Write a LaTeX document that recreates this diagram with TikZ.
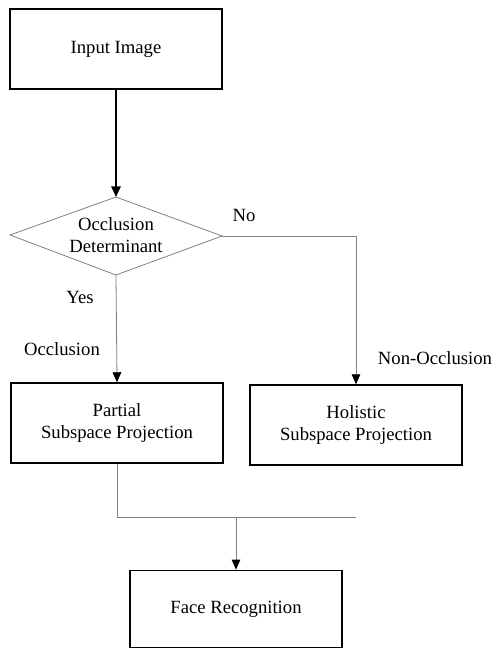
\documentclass[tikz,border=0pt]{standalone}
\usepackage{fontspec}
\setmainfont{Liberation Serif}
\usetikzlibrary{calc}
\usetikzlibrary{arrows.meta}

\begin{document}
\begin{tikzpicture}[x=0.75pt,y=-0.75pt,
    font=\fontsize{14}{17}\selectfont,
    box/.style={draw,line width=1.1pt,minimum width=159pt,minimum height=60pt,align=center,inner sep=0pt},
    flow/.style={draw=black!50,line width=0.6pt,-{Triangle[black,length=7.5pt,width=6.5pt]}},
    mainflow/.style={draw=black,line width=1.6pt,-{Triangle[black,length=8pt,width=7pt]}}]
\useasboundingbox (0,0) rectangle (493,650);
\coordinate (dtop) at (116,197);
\coordinate (dleft) at (10,235);
\coordinate (dright) at (222,236);
\coordinate (dbot) at (116,275);
\coordinate (pjoin) at (117,517);
\coordinate (hend) at (356,517);
\coordinate (fjoin) at (236,517);

\node[box] (in) at (116,49) {Input Image};
\node[box] (part) at (117,423) {Partial\\Subspace Projection};
\node[box] (hol) at (356,425) {Holistic\\Subspace Projection};
\node[box,minimum height=58pt] (face) at (236,609) {Face Recognition};

% decision
\draw[black!50,line width=0.6pt] (dtop)--(dright)--(dbot)--(dleft)--cycle;
\node[align=center] (det) at (116,235) {Occlusion\\Determinant};

\node (no) at (244,215) {No};
\node (yes) at (80,297) {Yes};
\node (occ) at (62,349) {Occlusion};
\node (nocc) at (435,358) {Non-Occlusion};

\draw[mainflow] (in.south)--(dtop);
\draw[flow] (dbot)--(part.north);
\draw[flow] (dright)-|(hol.north);
\draw[black!50,line width=0.6pt] (part.south)--(pjoin)--(hend);
\draw[flow] (fjoin)--(face.north);
\end{tikzpicture}
\end{document}
